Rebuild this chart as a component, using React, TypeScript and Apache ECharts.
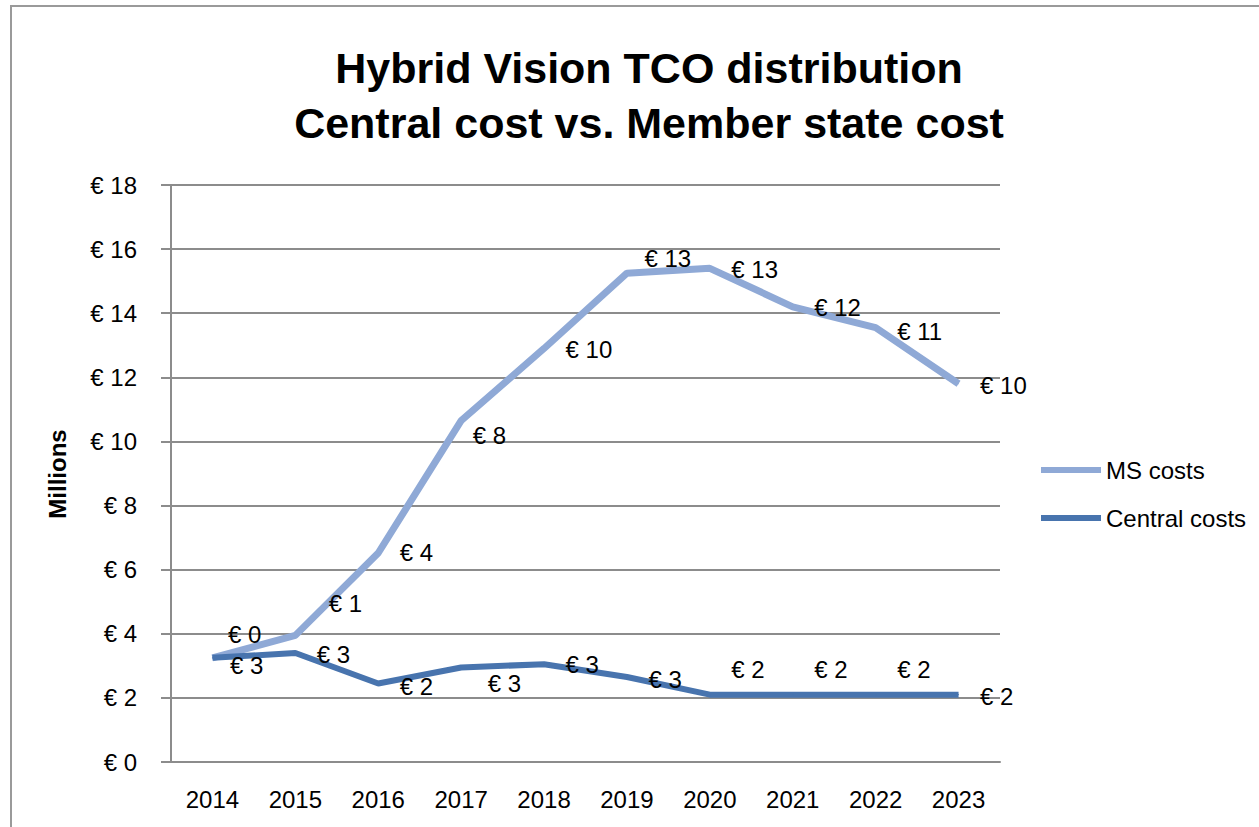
import React, { useEffect, useRef } from "react";
import * as echarts from "echarts";

const years = ["2014", "2015", "2016", "2017", "2018", "2019", "2020", "2021", "2022", "2023"];
const centralCosts = [3.25, 3.4, 2.45, 2.95, 3.05, 2.65, 2.1, 2.1, 2.1, 2.1];
const msCosts = [0.0, 0.55, 4.07, 7.7, 9.85, 12.6, 13.3, 12.1, 11.45, 9.7];
const yTicks = { min: 0, max: 18, interval: 2 };
const titleLines = ["Hybrid Vision TCO distribution", "Central cost vs. Member state cost"];

// label nudges (style only)
const centralLabelNudge: [number, number][] = [
  [-4, 8], [0, 1], [0, 3], [5, 16], [0, 0], [0, 2], [0, -25], [0, -25], [0, -25], [0, 2],
];
const msLabelNudge: [number, number][] = [
  [-6, -23], [12, -32], [0, 0], [-10, 15], [0, 1], [-4, -15], [0, 1], [0, 1], [0, 4], [0, 2],
];

const FONT = "Liberation Sans";
const MS_COLOR = "#8FA9D6";
const CENTRAL_COLOR = "#4874AE";
const GRID_COLOR = "#8C8C8C";

export default function App() {
  const ref = useRef<HTMLDivElement>(null);
  useEffect(() => {
    if (!ref.current) return;
    const chart = echarts.init(ref.current, undefined, { renderer: "svg" });
    const fmt = (p: any) => "€ " + Math.round(Number(p.value));
    const mkData = (vals: number[], nudges: [number, number][]) =>
      vals.map((v, i) => ({ value: v, label: { offset: nudges[i] } }));
    const labelBase = {
      show: true,
      position: "right" as const,
      distance: 21,
      formatter: fmt,
      color: "#000",
      fontFamily: FONT,
      fontSize: 24,
    };
    chart.setOption({
      animation: false,
      backgroundColor: "#fff",
      textStyle: { fontFamily: FONT },
      title: {
        text: titleLines.join("\n"),
        left: 644,
        top: 35,
        textAlign: "center",
        textStyle: {
          fontFamily: FONT,
          fontSize: 43,
          fontWeight: "bold",
          lineHeight: 55,
          color: "#000",
        },
      },
      graphic: [
        {
          type: "rect",
          shape: { x: 11, y: 6, width: 1400, height: 1000 },
          style: { fill: "none", stroke: "#9A9A9A", lineWidth: 2 },
          silent: true,
        },
        {
          type: "text",
          x: 57,
          y: 474,
          rotation: Math.PI / 2,
          style: {
            text: "Millions",
            fontFamily: FONT,
            fontSize: 24,
            fontWeight: "bold",
            fill: "#000",
            textAlign: "center",
            textVerticalAlign: "middle",
          },
        },
      ],
      legend: {
        data: ["MS costs", "Central costs"],
        orient: "vertical",
        left: 1036,
        top: 453,
        icon: "rect",
        itemWidth: 60,
        itemHeight: 6,
        itemGap: 24,
        textStyle: { fontFamily: FONT, fontSize: 24, color: "#000", padding: [0, 0, 0, 0] },
      },
      grid: { left: 171, right: 259, top: 185, bottom: 65, containLabel: false },
      xAxis: {
        type: "category",
        data: years,
        boundaryGap: true,
        axisLine: { show: true, lineStyle: { color: GRID_COLOR, width: 2 } },
        axisTick: { show: false },
        axisLabel: { color: "#000", fontFamily: FONT, fontSize: 24, margin: 25 },
      },
      yAxis: {
        type: "value",
        min: yTicks.min,
        max: yTicks.max,
        interval: yTicks.interval,
        axisLine: { show: true, lineStyle: { color: GRID_COLOR, width: 2 } },
        axisTick: { show: true, length: 10, lineStyle: { color: GRID_COLOR, width: 2 } },
        splitLine: { show: true, lineStyle: { color: GRID_COLOR, width: 2 } },
        axisLabel: {
          color: "#000",
          fontFamily: FONT,
          fontSize: 24,
          margin: 34,
          formatter: (v: number) => "€ " + v,
        },
      },
      series: [
        {
          name: "Central costs",
          type: "line",
          stack: "total",
          data: mkData(centralCosts, centralLabelNudge),
          symbol: "circle",
          symbolSize: 1,
          itemStyle: { color: CENTRAL_COLOR },
          lineStyle: { color: CENTRAL_COLOR, width: 6 },
          label: labelBase,
          z: 3,
        },
        {
          name: "MS costs",
          type: "line",
          stack: "total",
          data: mkData(msCosts, msLabelNudge),
          symbol: "circle",
          symbolSize: 1,
          itemStyle: { color: MS_COLOR },
          lineStyle: { color: MS_COLOR, width: 7 },
          label: labelBase,
          z: 2,
        },
      ],
    });
    return () => chart.dispose();
  }, []);
  return (
    <div
      ref={ref}
      style={{ position: "absolute", left: 0, top: 0, width: 1259, height: 827 }}
    />
  );
}
